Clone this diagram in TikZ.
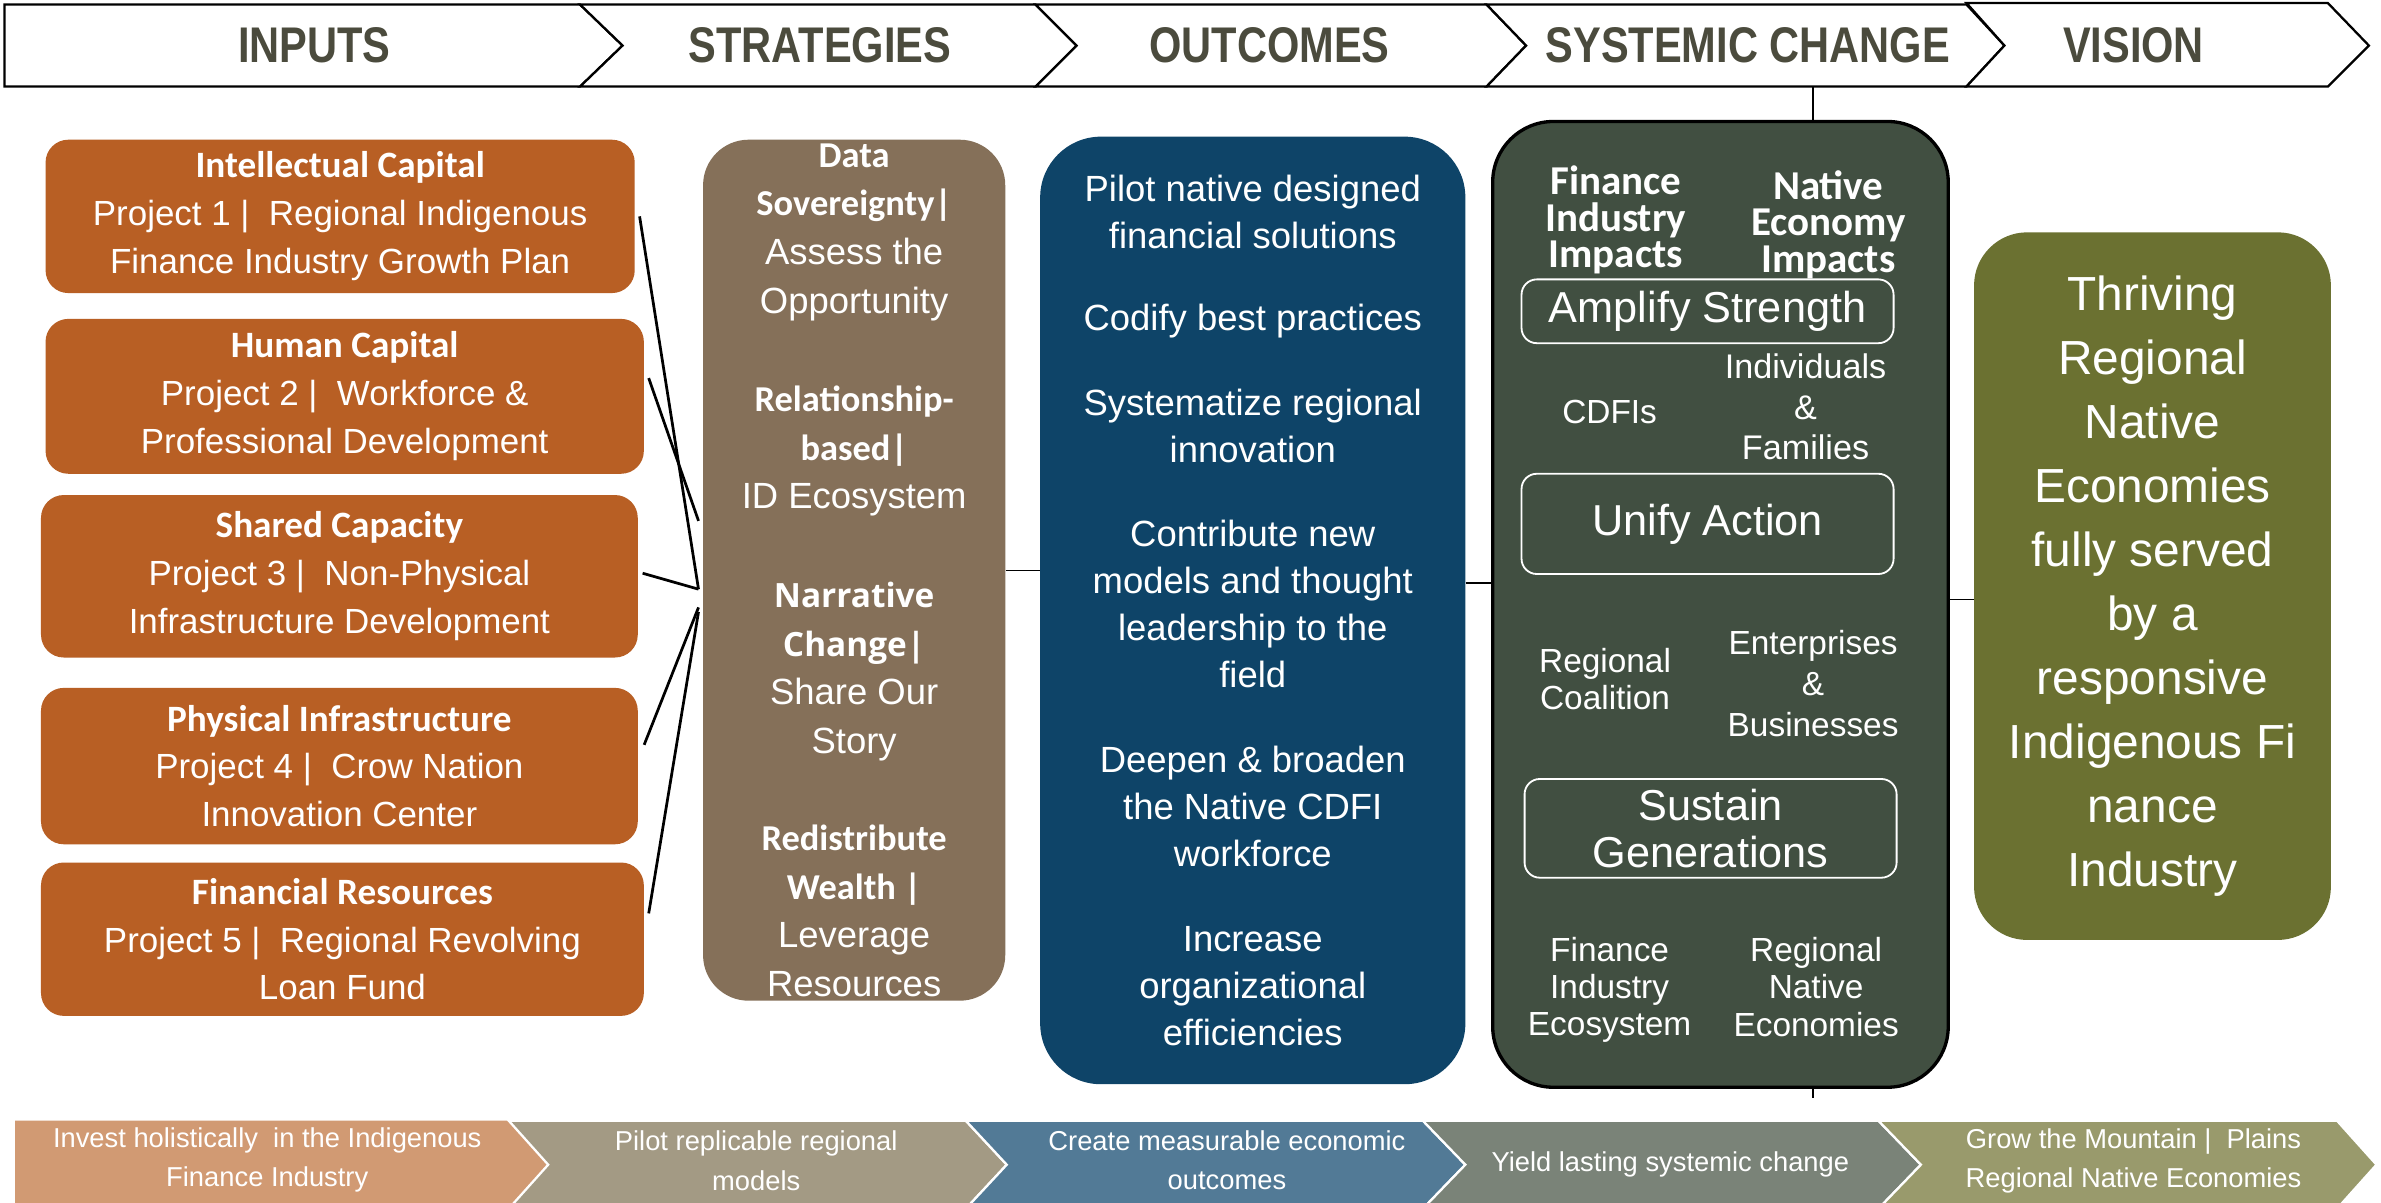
\documentclass[tikz,border=0pt]{standalone}
\usepackage{fontspec}
\usepackage{graphicx}
\setmainfont{Liberation Sans}
\newfontfamily\calibrifont{Carlito}
\newfontfamily\opensansfont{Open Sans}
\definecolor{titlegray}{RGB}{75,75,61}
\definecolor{inorange}{RGB}{184,95,36}
\definecolor{strattan}{RGB}{133,112,89}
\definecolor{outblue}{RGB}{14,68,104}
\definecolor{sysgreen}{RGB}{65,79,65}
\definecolor{visolive}{RGB}{107,113,49}
\definecolor{segA}{RGB}{209,154,115}
\definecolor{segB}{RGB}{163,154,132}
\definecolor{segC}{RGB}{82,122,150}
\definecolor{segD}{RGB}{122,131,120}
\definecolor{segE}{RGB}{153,154,108}
\newcommand\narrowtxt[1]{\scalebox{0.83}[1]{#1}}
\newcommand\bcal[1]{{\calibrifont\bfseries #1}}
\tikzset{
  chev/.style={draw=black, line width=1.5pt, fill=white},
  toptitle/.style={font=\bfseries\fontsize{33}{33}\selectfont, text=titlegray, inner sep=0pt},
  inbox/.style={fill=inorange, rounded corners=15pt, inner sep=0pt, text=white, align=center,
    font=\fontsize{23}{31.5}\selectfont},
  conn/.style={draw=black, line width=1.8pt},
  thinconn/.style={draw=black, line width=0.9pt},
  bigbox/.style={inner sep=0pt, text=white, align=center},
  sysbold/.style={text=white, align=center, inner sep=0pt, font=\calibrifont\bfseries\fontsize{27}{24}\selectfont},
  syssm/.style={text=white, align=center, inner sep=0pt, font=\fontsize{22}{24.5}\selectfont},
  innerbox/.style={draw=white, line width=1.2pt, rounded corners=10pt, text=white, align=center,
    inner sep=0pt, minimum width=245pt, font=\fontsize{28.5}{31}\selectfont},
  segfill/.style={draw=white, line width=1.5pt},
  segtext/.style={text=white, align=center, inner sep=0pt, font=\fontsize{18}{26}\selectfont},
}
\begin{document}
\begin{tikzpicture}[x=1pt,y=-1pt]
\useasboundingbox (0,0) rectangle (1568,792);
\fill[white] (0,0) rectangle (1568,792);

% ---------- top chevrons ----------
\draw[chev] (3,3) -- (382,3) -- (410,30) -- (382,57) -- (3,57) -- cycle;
\draw[chev] (382,3) -- (682,3) -- (709,30) -- (682,57) -- (382,57) -- (410,30) -- cycle;
\draw[chev] (682,3) -- (979,3) -- (1005,30) -- (979,57) -- (682,57) -- (709,30) -- cycle;
\draw[chev] (979,3) -- (1295,3) -- (1320,30) -- (1295,57) -- (979,57) -- (1005,30) -- cycle;
\draw[chev] (1295,2) -- (1533,2) -- (1560,30) -- (1533,57) -- (1295,57) -- (1320,30) -- cycle;
\node[toptitle] (tInputs) at (207,30) {\narrowtxt{INPUTS}};
\node[toptitle] (tStrat) at (540,30) {\narrowtxt{STRATEGIES}};
\node[toptitle] (tOut) at (836,30) {\narrowtxt{OUTCOMES}};
\node[toptitle] (tSys) at (1151,30) {\narrowtxt{SYSTEMIC CHANGE}};
\node[toptitle] (tVis) at (1405,30) {\narrowtxt{VISION}};

% ---------- inputs ----------
\node[inbox, minimum width=388pt, minimum height=101pt] (in1) at (224,142.5)
  {\bcal{\fontsize{24.5}{31.5}\selectfont Intellectual Capital}\\Project 1 |\ \ Regional Indigenous\\Finance Industry Growth Plan};
\node[inbox, minimum width=394pt, minimum height=102pt] (in2) at (227,261)
  {\bcal{\fontsize{24.5}{31.5}\selectfont Human Capital}\\Project 2 |\ \ Workforce \&\\Professional Development};
\node[inbox, minimum width=393pt, minimum height=107pt] (in3) at (223.5,379.5)
  {\bcal{\fontsize{24.5}{31.5}\selectfont Shared Capacity}\\Project 3 |\ \ Non-Physical\\Infrastructure Development};
\node[inbox, minimum width=393pt, minimum height=103pt] (in4) at (223.5,504.5)
  {\bcal{\fontsize{24.5}{31.5}\selectfont Physical Infrastructure}\\Project 4 |\ \ Crow Nation\\Innovation Center};
\node[inbox, minimum width=397pt, minimum height=101pt] (in5) at (225.5,618.5)
  {\bcal{\fontsize{24.5}{33}\selectfont Financial Resources}\\Project 5 |\ \ Regional Revolving\\Loan Fund};

% ---------- strategies ----------
\node[bigbox, fill=strattan, rounded corners=30pt, minimum width=199pt, minimum height=567pt,
  font=\fontsize{24}{32}\selectfont] (strat) at (562.5,375.5)
  {\bcal{Data}\\\bcal{Sovereignty|}\\Assess the\\Opportunity\\[33pt]
   \bcal{Relationship-}\\\bcal{based|}\\ID Ecosystem\\[33pt]
   {\opensansfont\bfseries\fontsize{22}{32}\selectfont Narrative}\\{\opensansfont\bfseries\fontsize{22}{32}\selectfont Change|}\\Share Our\\Story\\[32pt]
   \bcal{Redistribute}\\\bcal{Wealth |}\\Leverage\\Resources};

% ---------- outcomes ----------
\node[bigbox, fill=outblue, rounded corners=40pt, minimum width=280pt, minimum height=624pt,
  font=\fontsize{24}{31}\selectfont] (out) at (825,402)
  {Pilot native designed\\financial solutions\\[23pt]
   Codify best practices\\[25pt]
   Systematize regional\\innovation\\[24pt]
   Contribute new\\models and thought\\leadership to the\\field\\[25pt]
   Deepen \& broaden\\the Native CDFI\\workforce\\[25pt]
   Increase\\organizational\\efficiencies};

% ---------- systemic change ----------
\node[fill=sysgreen, draw=black, line width=2.2pt, rounded corners=40pt, minimum width=300pt,
  minimum height=636pt, inner sep=0pt] (sys) at (1133,398) {};
\node[sysbold] (fii) at (1064,145) {Finance\\Industry\\Impacts};
\node[sysbold] (nei) at (1204,148) {Native\\Economy\\Impacts};
\node[innerbox, minimum height=42pt] (amp) at (1124.5,205) {Amplify Strength};
\node[syssm] (cdfi) at (1060,271) {CDFIs};
\node[syssm, font=\fontsize{22.5}{26.5}\selectfont] (ind) at (1189,268) {Individuals\\\&\\Families};
\node[innerbox, minimum height=66pt] (unify) at (1124.5,345) {Unify Action};
\node[syssm] (rc) at (1057,447) {Regional\\Coalition};
\node[syssm, font=\fontsize{22}{27}\selectfont] (eb) at (1194,450) {Enterprises\\\&\\Businesses};
\node[innerbox, minimum height=65pt] (sus) at (1126.5,545.5) {Sustain\\Generations};
\node[syssm] (fie) at (1060,652) {Finance\\Industry\\Ecosystem};
\node[syssm] (rne) at (1196,650) {Regional\\Native\\Economies};

% ---------- vision ----------
\node[bigbox, fill=visolive, rounded corners=35pt, minimum width=235pt, minimum height=466pt,
  font=\fontsize{31.5}{42.2}\selectfont] (vis) at (1417.5,386)
  {Thriving\\Regional\\Native\\Economies\\fully served\\by a\\responsive\\Indigenous Fi\\nance\\Industry};

% ---------- connectors ----------
\coordinate (j1) at (460,388);
\coordinate (j2) at (460,343);
\coordinate (j4) at (460,400);
\coordinate (j5) at (460,403);
\draw[conn] ([xshift=3pt]in1.east) -- (j1);
\draw[conn] ([shift={(3pt,12pt)}]in2.east) -- (j2);
\draw[conn] ([shift={(3pt,2pt)}]in3.east) -- (j1);
\draw[conn] ([shift={(4pt,14pt)}]in4.east) -- (j4);
\draw[conn] ([shift={(3pt,17pt)}]in5.east) -- (j5);

\draw[thinconn] (strat.east) -- (strat.east -| out.west);
\coordinate (c2) at ([yshift=18pt]out.east);
\draw[thinconn] (c2) -- (c2 -| sys.west);
\coordinate (c3) at ([yshift=3pt]sys.east);
\draw[thinconn] (c3) -- (c3 -| vis.west);
\coordinate (v1) at (1194,57);
\draw[line width=1.2pt] (v1) -- (v1 |- sys.north);
\coordinate (v2) at (v1 |- sys.south);
\draw[line width=1.2pt] (v2) -- ++(0,6);

% ---------- bottom chevrons ----------
\fill[segA] (10,738) -- (335,738) -- (361,767) -- (335,796) -- (10,796) -- cycle;
\draw[segfill, fill=segB] (335,738) -- (636,738) -- (663,767) -- (636,796) -- (335,796) -- (361,767) -- cycle;
\draw[segfill, fill=segC] (636,738) -- (937,738) -- (965,767) -- (937,796) -- (636,796) -- (663,767) -- cycle;
\draw[segfill, fill=segD] (937,738) -- (1237,738) -- (1265,767) -- (1237,796) -- (937,796) -- (965,767) -- cycle;
\draw[segfill, fill=segE] (1237,738) -- (1539,738) -- (1565,767) -- (1539,796) -- (1237,796) -- (1265,767) -- cycle;
\node[segtext] (b1) at (176,764) {Invest holistically\ \ in the Indigenous\\Finance Industry};
\node[segtext] (b2) at (498,764.5) {Pilot replicable regional\\models};
\node[segtext] (b3) at (808,764) {Create measurable economic\\outcomes};
\node[segtext] (b4) at (1100,767) {Yield lasting systemic change};
\node[segtext] (b5) at (1405,764.5) {Grow the Mountain |\ \ Plains\\Regional Native Economies};
\end{tikzpicture}
\end{document}
